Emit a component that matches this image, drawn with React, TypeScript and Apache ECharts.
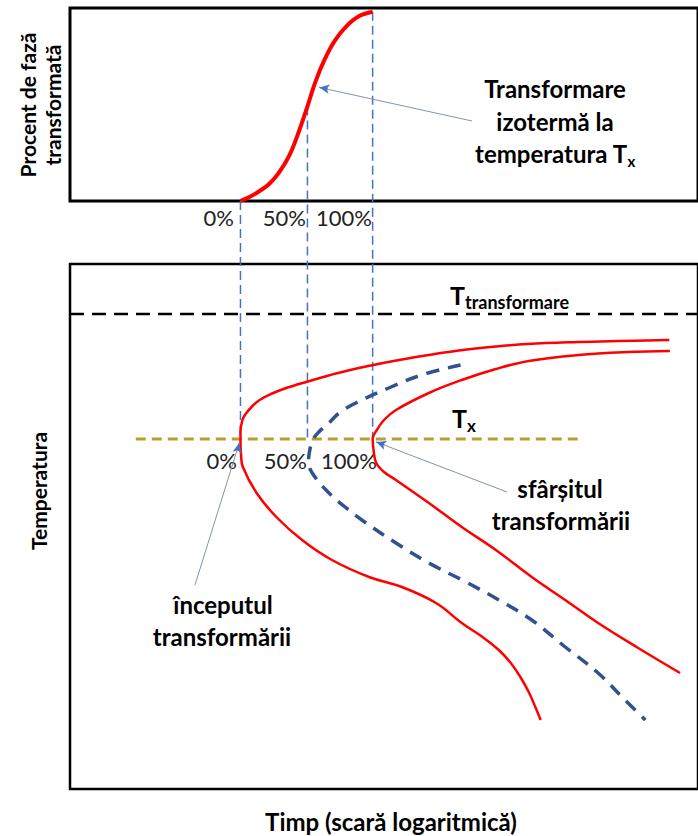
import React, { useEffect, useRef } from 'react';
import * as echarts from 'echarts';

const FONT = 'Lato, "Open Sans", sans-serif';

// ---------- top panel: percent of phase transformed vs. log time ----------
const sCurveTime = [28.5, 30, 31.7, 33.3, 35, 36.7, 38.3, 39.7, 41, 42.5, 44.2, 46.2, 48.3, 50.6];
const sCurvePct = [0, 2.1, 5.3, 9, 15.3, 24.3, 37, 50, 62.7, 74.3, 84.4, 92.3, 97.6, 100];

// times where 0%, 50%, 100% transformation is reached at Tx
const markTimes = [28.5, 39.7, 50.6];
const markPct = [0, 50, 100];
const markLabels = ['0%', '50%', '100%'];

// ---------- bottom panel: TTT diagram ----------
const TX = 70; // isothermal temperature Tx
const T_TRANSFORM = 95; // transformation temperature
const txLineTimes = [11, 85];
const tTransformTimes = [0, 105];

// start of transformation (time, temperature)
const startCurve: [number, number][] = [
  [100.2, 89.8], [91.7, 89.6], [85, 89.4], [76.5, 89], [71.2, 88.5], [65, 87.7], [60, 86.8],
  [55, 85.8], [50.3, 84.7], [44.8, 83.2], [39.5, 81.4], [35.7, 80], [33.8, 79.1], [31.7, 77.8],
  [30.5, 76.6], [29.3, 74.9], [28.8, 73.7], [28.5, 71.4], [28.5, 70], [28.6, 66.8],
  [28.9, 64.4], [31.2, 59.2], [34.5, 54.4], [38.8, 49.8], [43.8, 45.8], [50, 42.4],
  [55.5, 40.4], [61.2, 37.2], [65.5, 33.2], [69.2, 30.2], [71.7, 27.8], [73.7, 25.2],
  [75.3, 22.4], [76.7, 19.4], [77.8, 16.4], [78.7, 13.8],
];

// 50% transformed (time, temperature)
const halfCurve: [number, number][] = [
  [65.3, 84.8], [58.8, 82.8], [53.3, 80.2], [47.8, 77.2], [45, 75.2], [43.3, 73.2],
  [41.6, 71.4], [40.6, 69.8], [40.0, 67.2], [39.9, 65.5], [40.5, 63.2], [43.3, 59.2],
  [46, 56.4], [48.8, 53.8], [54.5, 49.2], [60, 45.2], [66.2, 41.4], [71.7, 37.8],
  [77.2, 33.8], [82.8, 28.4], [88.3, 23.2], [92.8, 17.8], [96.2, 13.8],
];

// end of transformation (time, temperature)
const endCurve: [number, number][] = [
  [100.3, 87.6], [93.3, 87.4], [85, 86.8], [76.7, 85.6], [71.2, 84], [65.5, 81.8],
  [60, 79.2], [54.5, 75.8], [52.5, 73.8], [51.3, 71.8], [50.6, 70], [50.8, 67.4],
  [51.2, 65.2], [52.5, 63.4], [54.5, 61.8], [60, 57.2], [65.5, 52.4], [71.2, 47.8],
  [77.2, 42.4], [82.8, 37.8], [88.3, 33.2], [95, 28.2], [102, 23.2],
];

// annotation arrow tips (data coordinates)
const tipIsothermal: [number, number] = [41.7, 60];
const tipEnd: [number, number] = [51.2, 69.4];
const tipStart: [number, number] = [28.3, 69.2];

const RED = '#FF0000';
const BLUE = '#4472C4';
const NAVY = '#30528F';
const GOLD = '#BF9B30';
const ARROW = '#8393B0';

type P = { x: number; y: number };
const arrowMark = (from: P, headBase: P, tip: [number, number]) => ({
  silent: true,
  symbol: ['none', 'none'],
  symbolSize: [7, 10],
  label: { show: false },
  emphasis: { disabled: true },
  lineStyle: { color: ARROW, width: 1, type: 'solid' },
  data: [
    [{ x: from.x, y: from.y }, { coord: tip }],
    [
      { x: headBase.x, y: headBase.y, lineStyle: { color: BLUE, width: 1 } },
      { coord: tip, symbol: 'arrow', symbolSize: [7, 10] },
    ],
  ],
});

const boldText = (text: string, x: number, y: number, size = 20, extra: any = {}) => ({
  type: 'text',
  x,
  y,
  silent: true,
  ...extra,
  style: {
    text,
    fill: '#000',
    fontFamily: FONT,
    fontWeight: 'bold',
    fontSize: size,
    align: 'center',
    verticalAlign: 'middle',
    ...(extra.style || {}),
  },
});

const subText = (main: string, sub: string, x: number, y: number, mainSize: number, subSize: number, lh: number, align = 'left') => ({
  type: 'text',
  x,
  y,
  silent: true,
  style: {
    text: `{a|${main}}{b|${sub}}`,
    align,
    verticalAlign: 'middle',
    rich: {
      a: { fontFamily: FONT, fontWeight: 'bold', fontSize: mainSize, lineHeight: lh, fill: '#000' },
      b: { fontFamily: FONT, fontWeight: 'bold', fontSize: subSize, lineHeight: subSize, verticalAlign: 'bottom', fill: '#000' },
    },
  },
});

const pctText = (text: string, x: number, y: number) => ({
  type: 'text',
  x,
  y,
  silent: true,
  style: {
    text,
    fill: '#222',
    fontFamily: FONT,
    fontSize: 22,
    align: 'right',
    verticalAlign: 'middle',
  },
});

export default function App() {
  const ref = useRef<HTMLDivElement>(null);

  useEffect(() => {
    if (!ref.current) return;
    const chart = echarts.init(ref.current, null, { renderer: 'svg' });

    const hidden = { show: false };
    const option: any = {
      animation: false,
      backgroundColor: '#fff',
      grid: [
        { left: 70, top: 8, width: 630, height: 193, show: true, borderColor: '#000', borderWidth: 3, backgroundColor: 'transparent' },
        { left: 70, top: 264, width: 630, height: 525, show: true, borderColor: '#000', borderWidth: 2.5, backgroundColor: 'transparent' },
      ],
      xAxis: [
        { gridIndex: 0, type: 'value', min: 0, max: 105, ...hidden },
        { gridIndex: 1, type: 'value', min: 0, max: 105, ...hidden },
      ],
      yAxis: [
        { gridIndex: 0, type: 'value', min: 0, max: 102, ...hidden },
        { gridIndex: 1, type: 'value', min: 0, max: 105, ...hidden },
      ],
      series: [
        ...markTimes.map((t, i) => ({
          id: 'conn' + i,
          type: 'line',
          xAxisIndex: 0,
          yAxisIndex: 0,
          clip: false,
          silent: true,
          symbol: 'none',
          z: 1,
          lineStyle: { color: BLUE, width: 1.5, type: [9, 5] },
          data: [[t, markPct[i]], [t, markPct[i]]],
        })),
        {
          type: 'line',
          xAxisIndex: 0,
          yAxisIndex: 0,
          smooth: 0.4,
          symbol: 'none',
          silent: true,
          z: 3,
          lineStyle: { color: RED, width: 4 },
          data: sCurveTime.map((t, i) => [t, sCurvePct[i]]),
          markLine: arrowMark({ x: 472, y: 121 }, { x: 328, y: 89 }, tipIsothermal),
        },
        {
          type: 'line',
          xAxisIndex: 1,
          yAxisIndex: 1,
          symbol: 'none',
          silent: true,
          clip: false,
          lineStyle: { color: '#000', width: 2.5, type: [14, 8] },
          data: tTransformTimes.map((t) => [t, T_TRANSFORM]),
        },
        {
          type: 'line',
          xAxisIndex: 1,
          yAxisIndex: 1,
          symbol: 'none',
          silent: true,
          lineStyle: { color: GOLD, width: 3, type: [10, 6] },
          data: txLineTimes.map((t) => [t, TX]),
        },
        {
          type: 'line',
          xAxisIndex: 1,
          yAxisIndex: 1,
          smooth: 0.4,
          symbol: 'none',
          silent: true,
          z: 3,
          lineStyle: { color: RED, width: 2.5 },
          data: startCurve,
          markLine: arrowMark({ x: 195, y: 585 }, { x: 237.6, y: 450.6 }, tipStart),
        },
        {
          type: 'line',
          xAxisIndex: 1,
          yAxisIndex: 1,
          smooth: 0.4,
          symbol: 'none',
          silent: true,
          z: 3,
          lineStyle: { color: NAVY, width: 3.5, type: [13, 9] },
          data: halfCurve,
        },
        {
          type: 'line',
          xAxisIndex: 1,
          yAxisIndex: 1,
          smooth: 0.4,
          symbol: 'none',
          silent: true,
          z: 3,
          lineStyle: { color: RED, width: 2.5 },
          data: endCurve,
          markLine: arrowMark({ x: 507, y: 492 }, { x: 384.5, y: 444.9 }, tipEnd),
        },
      ],
      graphic: [
        boldText('Procent de fază\ntransformată', 40, 105, 21, { rotation: Math.PI / 2, style: { lineHeight: 25 } }),
        boldText('Temperatura', 38, 491, 21, { rotation: Math.PI / 2 }),
        boldText('Timp (scară logaritmică)', 391, 821, 24),
        boldText('Transformare', 555, 88, 24),
        boldText('izotermă la', 555, 121, 24),
        subText('temperatura T', 'x', 555, 153, 24, 15, 31, 'center'),
        subText('T', 'transformare', 450, 295, 25, 18, 31),
        subText('T', 'x', 452, 418, 25, 17, 31),
        boldText('sfârșitul', 560, 488, 24),
        boldText('transformării', 561, 520, 24),
        boldText('începutul', 223, 604, 24),
        boldText('transformării', 222, 636, 24),
        pctText(markLabels[0], 234, 217),
        pctText(markLabels[1], 306, 217),
        pctText(markLabels[2], 372, 217),
        pctText(markLabels[0], 237, 460),
        pctText(markLabels[1], 307, 460),
        pctText(markLabels[2], 377, 460),
      ],
    };

    chart.setOption(option);

    // extend the 0% / 50% / 100% guides down to the Tx isotherm of the lower diagram
    const txPx = chart.convertToPixel({ gridIndex: 1 }, [0, TX]) as number[];
    const txInTop = (chart.convertFromPixel({ gridIndex: 0 }, txPx) as number[])[1];
    chart.setOption({
      series: markTimes.map((t, i) => ({ id: 'conn' + i, data: [[t, markPct[i]], [t, txInTop]] })),
    });

    return () => chart.dispose();
  }, []);

  return (
    <div
      ref={ref}
      style={{ position: 'fixed', left: 0, top: 0, width: 698, height: 836, background: '#fff' }}
    />
  );
}
